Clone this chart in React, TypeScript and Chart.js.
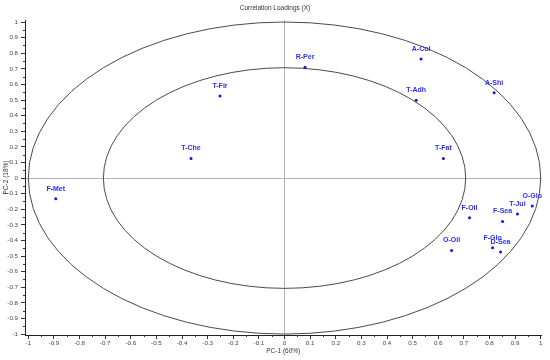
import React, { useEffect, useRef } from "react";
import { Chart, registerables } from "chart.js";

Chart.register(...registerables);

const variables = ["F-Met", "T-Che", "T-Fir", "R-Per", "A-Col", "A-Shi", "T-Adh", "T-Fat", "O-Glo", "T-Jui", "F-Sea", "F-Oil", "F-Glo", "D-Sea", "O-Oil"];
const pc1 = [-0.893, -0.365, -0.252, 0.08, 0.533, 0.818, 0.514, 0.62, 0.967, 0.909, 0.851, 0.722, 0.812, 0.843, 0.652];
const pc2 = [-0.133, 0.126, 0.526, 0.71, 0.763, 0.547, 0.498, 0.126, -0.179, -0.231, -0.278, -0.254, -0.447, -0.474, -0.464];
const tickValues = [-1, -0.9, -0.8, -0.7, -0.6, -0.5, -0.4, -0.3, -0.2, -0.1, 0, 0.1, 0.2, 0.3, 0.4, 0.5, 0.6, 0.7, 0.8, 0.9, 1];
const ellipseRadii = [1, 0.7071];
const chartTitle = "Correlation Loadings (X)";
const xTitle = "PC-1 (60%)";
const yTitle = "PC-2 (18%)";

const FONT = "'Liberation Sans', Arial, sans-serif";

const ellipsePlugin = {
  id: "ellipses",
  beforeDatasetsDraw(chart: any) {
    const { ctx, scales } = chart;
    const xs = scales.x;
    const ys = scales.y;
    const cx = xs.getPixelForValue(0);
    const cy = ys.getPixelForValue(0);
    ctx.save();
    ctx.strokeStyle = "#4a4a4a";
    ctx.lineWidth = 1;
    ellipseRadii.forEach((r) => {
      const rx = xs.getPixelForValue(r) - cx;
      const ry = cy - ys.getPixelForValue(r);
      ctx.beginPath();
      ctx.ellipse(cx, cy, rx, ry, 0, 0, Math.PI * 2);
      ctx.stroke();
    });
    ctx.restore();
  },
};

const labelPlugin = {
  id: "pointLabels",
  afterDatasetsDraw(chart: any) {
    const { ctx } = chart;
    const meta = chart.getDatasetMeta(0);
    ctx.save();
    ctx.font = `bold 7px ${FONT}`;
    ctx.fillStyle = "#2e2eff";
    ctx.textAlign = "center";
    ctx.textBaseline = "middle";
    meta.data.forEach((pt: any, i: number) => {
      ctx.fillText(variables[i], pt.x, pt.y - 10);
    });
    ctx.restore();
  },
};

const extrasPlugin = {
  id: "extras",
  afterDraw(chart: any) {
    const { ctx, scales, chartArea } = chart;
    const xs = scales.x;
    const ys = scales.y;
    ctx.save();
    ctx.strokeStyle = "#333";
    ctx.lineWidth = 1;
    for (let i = 0; i < tickValues.length - 1; i++) {
      const mid = (tickValues[i] + tickValues[i + 1]) / 2;
      const px = Math.round(xs.getPixelForValue(mid)) + 0.5;
      ctx.beginPath();
      ctx.moveTo(px, chartArea.bottom);
      ctx.lineTo(px, chartArea.bottom + 2);
      ctx.stroke();
      const py = Math.round(ys.getPixelForValue(mid)) + 0.5;
      ctx.beginPath();
      ctx.moveTo(chartArea.left, py);
      ctx.lineTo(chartArea.left - 2, py);
      ctx.stroke();
    }
    ctx.font = `6.5px ${FONT}`;
    ctx.fillStyle = "#333";
    ctx.textAlign = "center";
    ctx.textBaseline = "middle";
    ctx.fillText(chartTitle, chart.width / 2, 8);
    ctx.restore();
  },
};

export default function App() {
  const ref = useRef<HTMLCanvasElement | null>(null);
  useEffect(() => {
    document.body.style.margin = "0";
    if (!ref.current) return;
    const points = pc1.map((x, i) => ({ x, y: pc2[i] }));
    const gridColor = (c: any) => (c.tick && c.tick.value === 0 ? "#b4b4b4" : "rgba(0,0,0,0)");
    const chart = new Chart(ref.current, {
      type: "scatter",
      data: {
        datasets: [
          {
            data: points,
            backgroundColor: "#1414e6",
            borderColor: "#1414e6",
            pointRadius: 1.5,
            pointHoverRadius: 1.5,
            borderWidth: 0,
          },
        ],
      },
      options: {
        animation: false,
        responsive: false,
        events: [],
        layout: { padding: { top: 20, right: 8.5, left: 0, bottom: 0 } },
        plugins: { legend: { display: false }, title: { display: false }, tooltip: { enabled: false } },
        scales: {
          x: {
            type: "linear",
            min: -1.013,
            max: 1.003,
            afterBuildTicks: (s: any) => {
              s.ticks = tickValues.map((v) => ({ value: v }));
            },
            afterFit: (s: any) => {
              s.height = 25;
            },
            grid: { color: gridColor, tickColor: "#333", tickLength: 4, lineWidth: 1 },
            border: { color: "#222", width: 1 },
            ticks: {
              autoSkip: false,
              maxRotation: 0,
              minRotation: 0,
              padding: 1,
              color: "#444",
              font: { size: 6.2, family: FONT },
              callback: (v: any) => String(Math.round(Number(v) * 10) / 10),
            },
            title: {
              display: true,
              text: xTitle,
              color: "#333",
              font: { size: 6.5, family: FONT },
              padding: { top: 0, bottom: 4.5 },
            },
          },
          y: {
            type: "linear",
            min: -1.006,
            max: 1.013,
            afterBuildTicks: (s: any) => {
              s.ticks = tickValues.map((v) => ({ value: v }));
            },
            afterFit: (s: any) => {
              s.width = 25;
            },
            grid: { color: gridColor, tickColor: "#333", tickLength: 4, lineWidth: 1 },
            border: { color: "#222", width: 1 },
            ticks: {
              autoSkip: false,
              padding: 3,
              color: "#444",
              font: { size: 6.2, family: FONT },
              callback: (v: any) => String(Math.round(Number(v) * 10) / 10),
            },
            title: {
              display: true,
              text: yTitle,
              color: "#333",
              font: { size: 6.5, family: FONT },
              padding: { top: 2.5, bottom: 0 },
            },
          },
        },
      },
      plugins: [ellipsePlugin, labelPlugin, extrasPlugin],
    });
    return () => chart.destroy();
  }, []);
  return (
    <div style={{ width: 550, height: 360 }}>
      <canvas ref={ref} width={550} height={360} />
    </div>
  );
}
